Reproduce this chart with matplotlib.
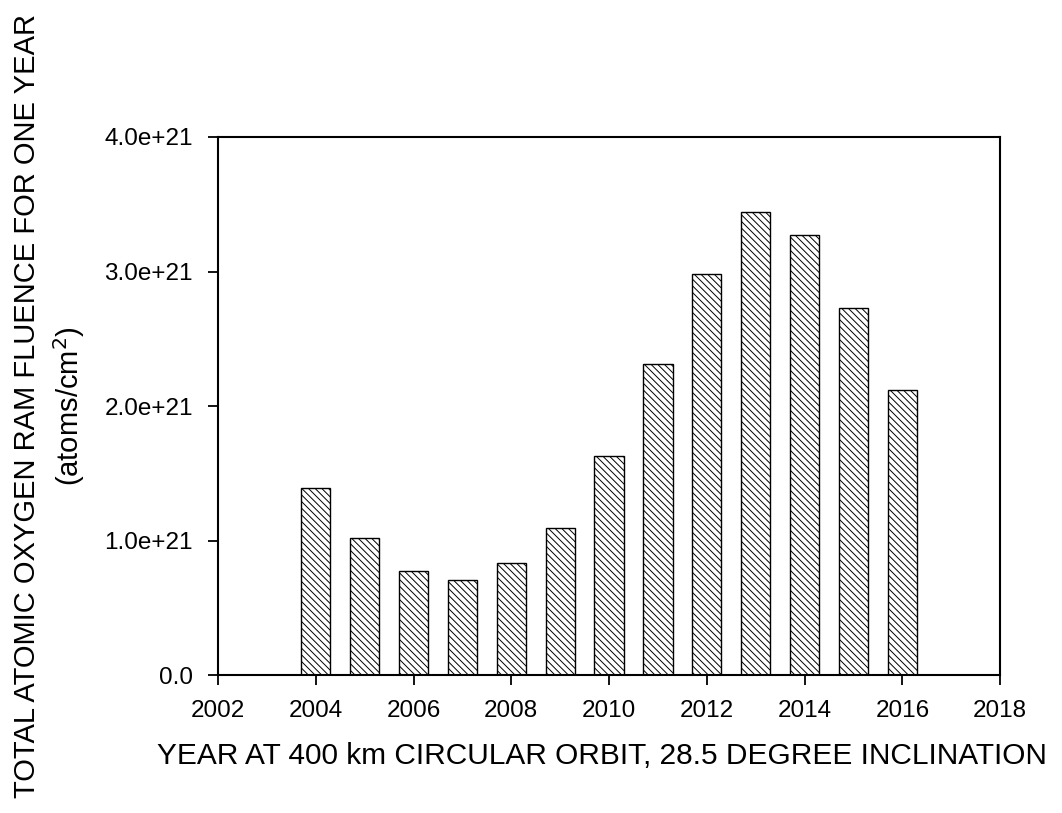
import matplotlib
matplotlib.use("Agg")
import matplotlib.pyplot as plt

years = [2004, 2005, 2006, 2007, 2008, 2009, 2010, 2011, 2012, 2013, 2014, 2015, 2016]
fluence = [1.39e21, 1.02e21, 0.77e21, 0.71e21, 0.83e21, 1.09e21, 1.63e21,
           2.31e21, 2.98e21, 3.44e21, 3.27e21, 2.73e21, 2.12e21]
xticks = [2002, 2004, 2006, 2008, 2010, 2012, 2014, 2016, 2018]
yticks = [0.0, 1.0e21, 2.0e21, 3.0e21, 4.0e21]
ytick_labels = ["0.0", "1.0e+21", "2.0e+21", "3.0e+21", "4.0e+21"]

plt.rcParams['font.family'] = ['Liberation Sans', 'DejaVu Sans']
plt.rcParams['hatch.linewidth'] = 0.7

fig = plt.figure(figsize=(10.62, 8.13), dpi=100)
ax = fig.add_axes([0.2053, 0.1697, 0.7364, 0.6618])

ax.bar(years, fluence, width=0.6, color='white', edgecolor='black',
       hatch='\\\\\\\\\\', linewidth=1.0)

ax.set_xlim(2002, 2018)
ax.set_ylim(0, 4.0e21)
ax.set_xticks(xticks)
ax.set_xticklabels([str(x) for x in xticks])
ax.set_yticks(yticks)
ax.set_yticklabels(ytick_labels)
ax.tick_params(direction='out', length=7, width=1.3, labelsize=17.5, pad=11)
for s in ax.spines.values():
    s.set_linewidth(1.5)

ax.set_xlabel("YEAR AT 400 km CIRCULAR ORBIT, 28.5 DEGREE INCLINATION", fontsize=21.5, labelpad=18)
ax.xaxis.set_label_coords(0.491, -0.125)
ax.set_ylabel("TOTAL ATOMIC OXYGEN RAM FLUENCE FOR ONE YEAR\n(atoms/cm$^2$)",
              fontsize=21, linespacing=1.35)
ax.yaxis.set_label_coords(-0.168, 0.5)

fig.savefig("out.png", dpi=100)
